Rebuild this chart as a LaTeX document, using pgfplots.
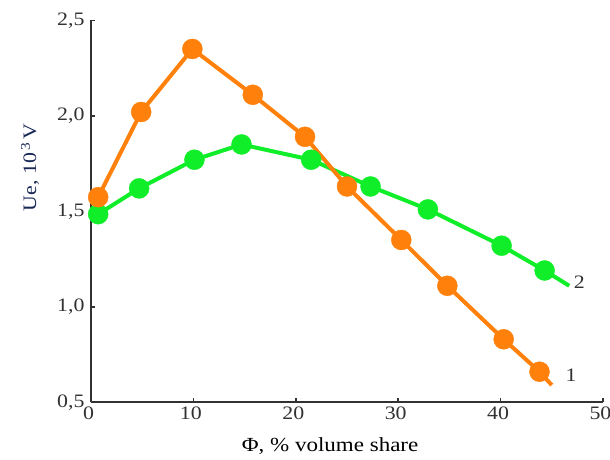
\documentclass[border=0pt]{standalone}
\usepackage{fontspec}
\setmainfont[FakeStretch=1.15]{Liberation Serif}
\usepackage{pgfplots}
\pgfplotsset{compat=1.18}
\definecolor{corange}{RGB}{255,128,10}
\definecolor{cgreen}{RGB}{15,238,40}
\definecolor{axgray}{RGB}{50,50,50}
\definecolor{navy}{RGB}{25,40,85}
\begin{document}
\begin{tikzpicture}[x=1pt,y=1pt]
\begin{axis}[
  at={(0,0)}, anchor=south west,
  scale only axis, width=512pt, height=382pt,
  xmin=0, xmax=50, ymin=0.5, ymax=2.5,
  axis lines*=left,
  axis line style={axgray, line width=1.8pt},
  xtick={0,10,20,30,40,50}, ytick={0.5,1.0,1.5,2.0,2.5},
  tick align=inside, major tick length=4pt,
  tick style={axgray, line width=1.5pt},
  /pgf/number format/assume math mode=true,
  yticklabel={\pgfmathprintnumber[fixed,fixed zerofill,precision=1,use comma]{\tick}},
  ticklabel style={font=\fontsize{19}{19}\selectfont, text=axgray},
  xticklabel style={yshift=-1pt, xshift=-2.5pt},
  yticklabel style={xshift=-3pt},
  xlabel={Φ, \% volume share},
  ylabel={Ue, 10\textsuperscript{\,3}\,V},
  xlabel style={font=\fontsize{20}{20}\selectfont, text=black, at={(axis description cs:0.467,-0.115)}, anchor=center},
  ylabel style={font=\fontsize{19}{19}\selectfont, text=navy, at={(axis description cs:-0.119,0.615)}, anchor=center},
  clip=false,
]
% series 2 (green)
\addplot[cgreen, line width=4pt, no marks] coordinates {
  (0.7,1.485) (4.7,1.62) (10.1,1.77) (14.7,1.85) (21.5,1.77)
  (27.3,1.63) (32.9,1.51) (40.1,1.32) (44.3,1.19) (46.7,1.11)};
\addplot[only marks, mark=*, mark size=10pt, cgreen, mark options={draw=cgreen, fill=cgreen}] coordinates {
  (0.7,1.485) (4.7,1.62) (10.1,1.77) (14.7,1.85) (21.5,1.77)
  (27.3,1.63) (32.9,1.51) (40.1,1.32) (44.3,1.19)};
% series 1 (orange)
\addplot[corange, line width=4pt, no marks] coordinates {
  (0.7,1.574) (4.9,2.02) (9.9,2.35) (15.8,2.11) (20.9,1.89)
  (25.0,1.63) (30.3,1.35) (34.8,1.11) (40.3,0.83) (43.8,0.66) (45.0,0.59)};
\addplot[only marks, mark=*, mark size=10pt, corange, mark options={draw=corange, fill=corange}] coordinates {
  (0.7,1.574) (4.9,2.02) (9.9,2.35) (15.8,2.11) (20.9,1.89)
  (25.0,1.63) (30.3,1.35) (34.8,1.11) (40.3,0.83) (43.8,0.66)};
\node[font=\fontsize{19}{19}\selectfont, text=axgray, anchor=west] at (axis cs:46.8,1.13) {2};
\node[font=\fontsize{19}{19}\selectfont, text=axgray, anchor=west] at (axis cs:46.0,0.64) {1};
\end{axis}
\pgfresetboundingbox
\path[use as bounding box] (-91,-56.7) rectangle (519,402.3);
\end{tikzpicture}
\end{document}
